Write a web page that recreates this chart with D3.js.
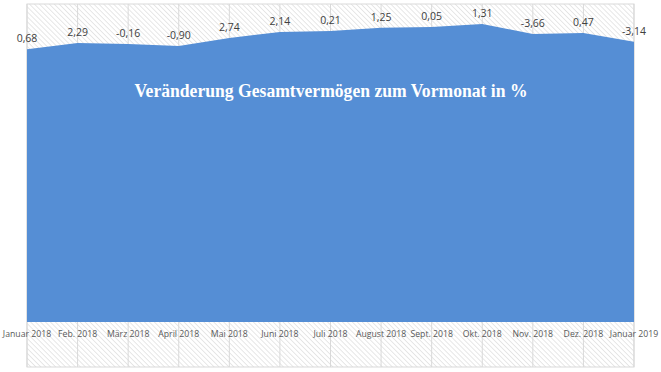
<!DOCTYPE html>
<html>
<head>
<meta charset="utf-8">
<script src="https://cdn.jsdelivr.net/npm/d3@7.9.0/dist/d3.min.js"></script>
<style>
  body { margin: 0; background: #fff; }
  svg { display: block; }
</style>
</head>
<body>
<svg id="chart" width="661" height="372"></svg>
<script>
// Monate (Kategorien)
const months = ["Januar 2018", "Feb. 2018", "März 2018", "April 2018", "Mai 2018", "Juni 2018",
  "Juli 2018", "August 2018", "Sept. 2018", "Okt. 2018", "Nov. 2018", "Dez. 2018", "Januar 2019"];
// Gesamtvermögen (relative Höhe der Fläche, geschätzt)
const vermoegen = [85.8, 87.7, 87.4, 86.8, 89.3, 91.2, 91.5, 92.5, 92.8, 93.7, 90.6, 90.9, 88.1];
// Veränderung zum Vormonat in % (Beschriftungen)
const changes = ["0,68", "2,29", "-0,16", "-0,90", "2,74", "2,14", "0,21", "1,25", "0,05", "1,31", "-3,66", "0,47", "-3,14"];

const svg = d3.select("#chart");
const plot = { left: 27, right: 634, top: 4, bottom: 367 };
const areaBottom = 322;

// Schraffur
const defs = svg.append("defs");
const pat = defs.append("pattern")
  .attr("id", "hatch")
  .attr("patternUnits", "userSpaceOnUse")
  .attr("width", 3.5).attr("height", 3.5)
  .attr("patternTransform", "rotate(-45)");
pat.append("rect").attr("width", 3.5).attr("height", 3.5).attr("fill", "#fff");
pat.append("line").attr("x1", 0).attr("y1", 0).attr("x2", 0).attr("y2", 3.5)
  .attr("stroke", "#e0e0e0").attr("stroke-width", 1.5);

svg.append("rect")
  .attr("x", plot.left).attr("y", plot.top)
  .attr("width", plot.right - plot.left).attr("height", plot.bottom - plot.top)
  .attr("fill", "url(#hatch)")
  .attr("stroke", "#d9d9d9").attr("stroke-width", 1);

const x = d3.scalePoint().domain(months).range([plot.left, plot.right]);
const y = d3.scaleLinear().domain([0, 100]).range([areaBottom, plot.top]);

// vertikale Gitterlinien
svg.append("g").selectAll("line")
  .data(months)
  .join("line")
  .attr("x1", d => x(d)).attr("x2", d => x(d))
  .attr("y1", plot.top).attr("y2", plot.bottom)
  .attr("stroke", "#d9d9d9").attr("stroke-width", 1);

const area = d3.area()
  .x((d, i) => x(months[i]))
  .y0(areaBottom)
  .y1(d => y(d));

svg.append("path")
  .datum(vermoegen)
  .attr("d", area)
  .attr("fill", "#558ed5");

// Datenbeschriftungen
svg.append("g").selectAll("text")
  .data(changes)
  .join("text")
  .attr("x", (d, i) => x(months[i]))
  .attr("y", (d, i) => y(vermoegen[i]) - 7)
  .attr("text-anchor", "middle")
  .attr("font-family", "'Open Sans', sans-serif")
  .attr("font-size", 10.5)
  .attr("fill", "#404040")
  .text(d => d);

// x-Achse
svg.append("g").selectAll("text")
  .data(months)
  .join("text")
  .attr("x", d => x(d))
  .attr("y", 337)
  .attr("text-anchor", "middle")
  .attr("font-family", "'Open Sans', sans-serif")
  .attr("font-size", 8.7)
  .attr("fill", "#595959")
  .text(d => d);

// Titel
svg.append("text")
  .attr("x", 331).attr("y", 97)
  .attr("text-anchor", "middle")
  .attr("font-family", "'Liberation Serif', serif")
  .attr("font-weight", "bold")
  .attr("font-size", 18)
  .attr("textLength", 393)
  .attr("lengthAdjust", "spacingAndGlyphs")
  .attr("fill", "#fff")
  .text("Veränderung Gesamtvermögen zum Vormonat in %");
</script>
</body>
</html>
